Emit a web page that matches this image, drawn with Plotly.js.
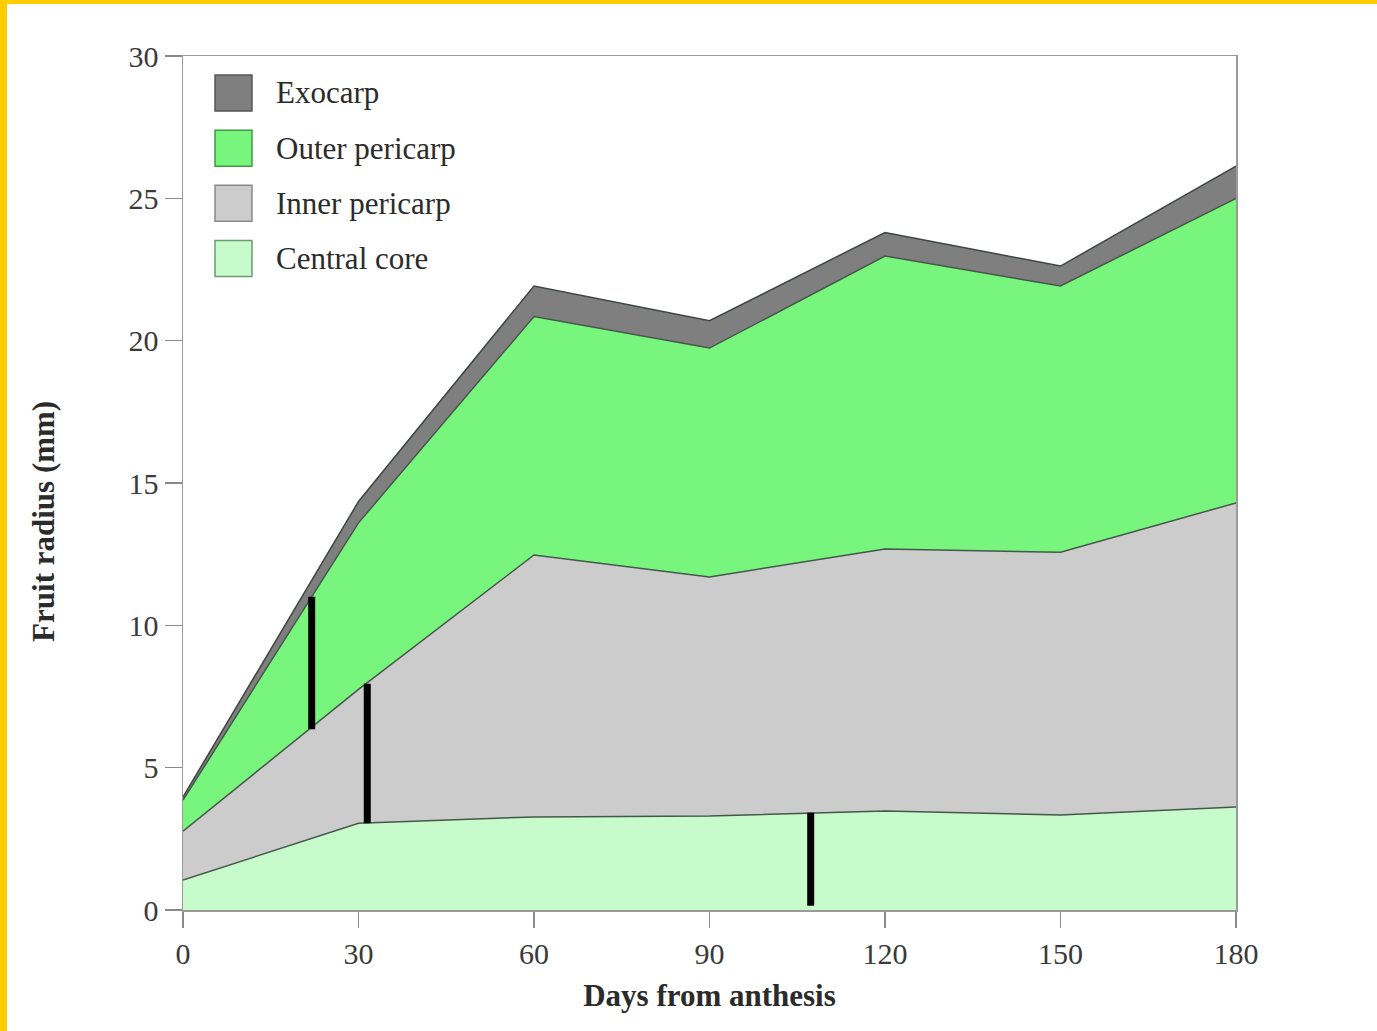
<!DOCTYPE html>
<html>
<head>
<meta charset="utf-8">
<script src="https://cdn.plot.ly/plotly-3.0.1.min.js"></script>
<style>
  html, body { margin: 0; padding: 0; background: #ffffff; }
  #frame { width: 1370px; height: 1027px; border-top: 4px solid #ffcc00; border-left: 7px solid #ffcc00; background: #ffffff; }
  #chart { width: 1370px; height: 1027px; }
</style>
</head>
<body>
<div id="frame"><div id="chart"></div></div>
<script>
// Days from anthesis
const days = [0, 30, 60, 90, 120, 150, 180];
// Outer radius (mm) of each tissue boundary
const centralCore   = [1.05, 3.05, 3.27, 3.30, 3.48, 3.34, 3.62];
const innerPericarp = [2.77, 7.75, 12.47, 11.70, 12.68, 12.57, 14.30];
const outerPericarp = [3.86, 13.60, 20.85, 19.74, 22.97, 21.92, 25.00];
const exocarp       = [3.97, 14.35, 21.92, 20.70, 23.80, 22.62, 26.13];

// Black vertical markers
const markDays = [22, 31.5, 107.3];
const markLow  = [6.35, 3.05, 0.15];
const markHigh = [11.0, 7.95, 3.42];

// Legend
const legendNames  = ['Exocarp', 'Outer pericarp', 'Inner pericarp', 'Central core'];
const legendColors = ['#7f7f7f', '#78f57c', '#cccccc', '#c8fbcb'];
const legendEdges  = ['#555555', '#3f9a45', '#8a8a8a', '#6f9a72'];

const xTicks = [0, 30, 60, 90, 120, 150, 180];
const yTicks = [0, 5, 10, 15, 20, 25, 30];

const serif = 'Liberation Serif, Times New Roman, serif';
const edgeLine = {color: '#45574a', width: 1.5};

const traces = [
  {x: days, y: centralCore, type: 'scatter', mode: 'lines', fill: 'tozeroy',
   fillcolor: legendColors[3], line: edgeLine, name: legendNames[3], showlegend: false, hoverinfo: 'x+y'},
  {x: days, y: innerPericarp, type: 'scatter', mode: 'lines', fill: 'tonexty',
   fillcolor: legendColors[2], line: edgeLine, name: legendNames[2], showlegend: false, hoverinfo: 'x+y'},
  {x: days, y: outerPericarp, type: 'scatter', mode: 'lines', fill: 'tonexty',
   fillcolor: legendColors[1], line: edgeLine, name: legendNames[1], showlegend: false, hoverinfo: 'x+y'},
  {x: days, y: exocarp, type: 'scatter', mode: 'lines', fill: 'tonexty',
   fillcolor: legendColors[0], line: {color: '#3e463f', width: 1.5}, name: legendNames[0], showlegend: false, hoverinfo: 'x+y'}
];

// vertical black markers
const mx = [], my = [];
for (let i = 0; i < markDays.length; i++) {
  mx.push(markDays[i], markDays[i], null);
  my.push(markLow[i], markHigh[i], null);
}
traces.push({x: mx, y: my, type: 'scatter', mode: 'lines',
  line: {color: '#000000', width: 7}, showlegend: false, hoverinfo: 'skip', connectgaps: false});

// custom legend (large squares)
const shapes = [];
const annotations = [];
const sqX0 = 0.0304, sqX1 = 0.0655, sqH = 0.0422;
const yTop = 0.9567, yStep = 0.0646;
for (let i = 0; i < legendNames.length; i++) {
  const yc = yTop - i * yStep;
  shapes.push({type: 'rect', xref: 'paper', yref: 'paper',
    x0: sqX0, x1: sqX1, y0: yc - sqH / 2, y1: yc + sqH / 2,
    fillcolor: legendColors[i], line: {color: legendEdges[i], width: 1.5}});
  annotations.push({xref: 'paper', yref: 'paper', x: 0.0865, y: yc,
    xanchor: 'left', yanchor: 'middle', showarrow: false, text: legendNames[i],
    font: {family: serif, size: 31, color: '#2b2b2b'}});
}
annotations.push({xref: 'paper', yref: 'paper', x: -0.1325, y: 0.455,
  xanchor: 'center', yanchor: 'middle', showarrow: false, textangle: -90,
  text: '<b>Fruit radius (mm)</b>', font: {family: serif, size: 31, color: '#2b2b2b'}});

const layout = {
  width: 1370, height: 1027,
  margin: {l: 176, r: 141, t: 52, b: 121},
  paper_bgcolor: '#ffffff', plot_bgcolor: '#ffffff',
  showlegend: false,
  xaxis: {
    range: [0, 180], tickvals: xTicks, ticktext: xTicks.map(String),
    ticks: 'outside', ticklen: 16, tickwidth: 1.5, tickcolor: '#8a8a8a',
    showline: true, linecolor: '#9a9a9a', linewidth: 1.5, mirror: true,
    showgrid: false, zeroline: false,
    tickfont: {family: serif, size: 30, color: '#3a3a3a'},
    title: {text: '<b>Days from anthesis</b>', font: {family: serif, size: 31, color: '#2b2b2b'}, standoff: 16}
  },
  yaxis: {
    range: [0, 30], tickvals: yTicks, ticktext: yTicks.map(String),
    ticks: 'outside', ticklen: 17, tickwidth: 1.5, tickcolor: '#8a8a8a',
    showline: true, linecolor: '#9a9a9a', linewidth: 1.5, mirror: true,
    showgrid: false, zeroline: false,
    tickfont: {family: serif, size: 30, color: '#3a3a3a'}
  },
  shapes: shapes,
  annotations: annotations
};

Plotly.newPlot('chart', traces, layout, {displayModeBar: false, staticPlot: true});
</script>
</body>
</html>
